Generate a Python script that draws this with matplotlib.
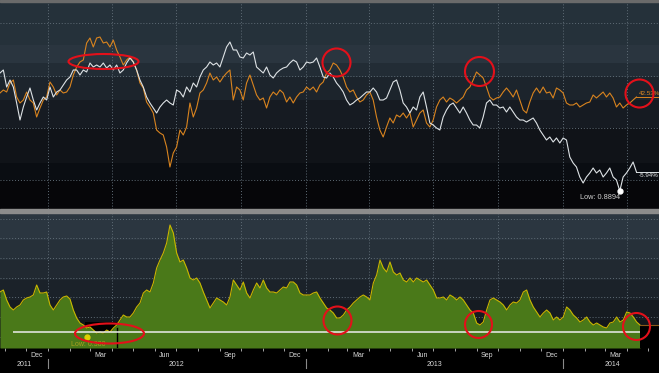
import numpy as np
import pandas as pd
import matplotlib
matplotlib.use('Agg')
from matplotlib import pyplot as plt
from matplotlib import transforms
from matplotlib.path import Path
from matplotlib.patches import Rectangle

plt.rcParams['font.family'] = ['Liberation Sans', 'DejaVu Sans']

# ---- data (chart units) ----
white_vals = [134,137,120,127,120,104,87,100,110,119,107,97,104,110,107,120,110,115,117,122,
              127,130,137,137,132,137,135,144,140,142,140,144,139,142,137,142,134,137,144,149,
              145,137,127,120,110,104,99,94,100,104,107,104,102,117,115,110,120,115,124,120,
              130,137,140,145,142,144,140,
              150,160,165,157,157,150,149,154,152,155,140,137,134,140,132,129,134,137,139,140,
              144,147,145,137,140,145,144,145,149,140,130,129,134,130,124,120,115,107,102,104,
              107,109,112,115,115,119,115,107,107,109,117,125,127,117,104,100,94,100,97,110,
              115,100,84,82,79,77,
              90,97,102,104,99,94,100,94,87,82,82,79,90,104,107,102,102,99,100,95,
              100,95,90,87,87,85,87,89,84,77,72,67,70,65,69,64,69,67,50,44,
              40,30,24,30,34,39,34,37,30,34,39,30,27,16,30,34,39,45,35]
orange_vals = [114,117,115,124,127,110,104,107,115,107,104,90,99,107,110,125,120,112,117,114,
               115,120,132,140,145,147,164,169,160,169,170,164,165,160,167,157,150,142,147,150,
               145,137,124,119,105,100,94,77,74,72,60,40,54,60,77,72,80,104,90,99,
               114,117,124,134,127,130,125,
               130,134,137,107,120,117,107,124,132,122,112,107,109,99,110,115,112,117,114,105,
               110,104,110,114,115,120,117,120,115,122,125,134,137,144,142,137,130,120,115,117,
               110,105,107,112,115,107,90,77,70,80,89,84,92,90,94,89,94,80,87,94,
               97,84,80,87,100,107,
               110,105,109,107,104,107,110,117,120,127,135,132,129,120,110,107,109,110,115,119,
               115,110,117,107,97,94,105,114,119,114,120,114,115,109,119,117,114,104,102,102,
               104,100,102,104,105,112,109,112,115,110,114,109,100,104,99,102,104,107,110]
spread_vals = [56,58,48,41,38,41,43,48,50,51,53,63,55,55,56,43,38,43,48,51,
               52,49,38,30,25,23,20,21,18,15,16,15,18,16,20,23,28,33,31,31,
               35,41,45,55,58,56,65,80,88,95,105,123,115,95,86,88,80,70,68,70,
               65,56,48,40,45,50,48,46,43,51,68,63,58,66,55,50,58,65,60,68,
               60,56,56,55,58,61,60,66,66,63,55,53,53,53,55,56,50,45,40,38,
               35,30,30,33,38,41,45,48,51,53,51,48,65,73,88,80,76,86,76,73,
               75,68,66,70,66,70,68,66,68,63,58,50,50,51,48,53,51,48,51,48,
               43,38,35,25,23,26,38,48,50,48,46,43,38,43,46,45,48,56,58,48,
               41,36,31,35,38,35,28,31,28,31,41,38,33,30,26,28,31,26,23,25,
               23,21,20,25,26,31,26,28,36,35,31,26,23]

top_dates = pd.date_range('2011-10-25', '2014-04-15', periods=len(white_vals))
bot_dates = pd.date_range('2011-10-25', '2014-04-20', periods=len(spread_vals))

white_last_label = '-5.94%'
orange_last_label = '42.53%'
white_low_label = 'Low: 0.8894'
spread_low_label = 'Low: 0.380'
spread_ref = 16

month_labels = ['Dec', 'Mar', 'Jun', 'Sep', 'Dec', 'Mar', 'Jun', 'Sep', 'Dec', 'Mar']
month_pos = ['2011-12-16', '2012-03-16', '2012-06-15', '2012-09-15', '2012-12-16',
             '2013-03-16', '2013-06-15', '2013-09-15', '2013-12-16', '2014-03-16']
year_labels = ['2011', '2012', '2013', '2014']
year_pos = ['2011-11-28', '2012-07-01', '2013-07-02', '2014-03-12']
year_breaks = ['2012-01-01', '2013-01-01', '2014-01-01']
quarters = pd.date_range('2012-01-01', '2014-04-01', freq='QS')
months = pd.date_range('2011-11-01', '2014-05-01', freq='MS')

low_window = ('2012-02-22', '2012-04-08')

# red highlights: date, value, width px, height px
top_marks = [('2012-03-19', 146.5, 70, 15), ('2013-02-13', 145, 28, 28),
             ('2013-09-03', 136, 29, 29), ('2014-04-18', 114.5, 28, 28)]
bot_marks = [('2012-03-27', 15, 69, 20), ('2013-02-14', 28, 28, 28),
             ('2013-09-02', 24.5, 27, 27), ('2014-04-15', 22.5, 27, 27)]

xmin, xmax = pd.Timestamp('2011-10-25'), pd.Timestamp('2014-05-17')

H = 373.0
fig = plt.figure(figsize=(6.59, 3.73), dpi=100, facecolor='black')
ax1 = fig.add_axes([0, 1 - 209 / H, 1, 209 / H])
ax2 = fig.add_axes([0, 1 - 348 / H, 1, 135 / H])

fig.add_artist(Rectangle((0, 1 - 213 / H), 1, 4 / H, transform=fig.transFigure,
                         color='#8c8c8c', zorder=10))
fig.add_artist(Rectangle((0, 1 - 1.5 / H), 1, 1.5 / H, transform=fig.transFigure,
                         color='#6a6a6a', zorder=10))

for ax in (ax1, ax2):
    ax.set_facecolor('black')
    for s in ax.spines.values():
        s.set_visible(False)
    ax.set_xlim(xmin, xmax)
    ax.set_yticks([])

ax1.set_ylim(-2, 207)
ax2.set_ylim(0, 135)

# banded background
top_bands = [(162, 207, '#25313a'), (144, 162, '#2a353f'), (130, 144, '#222c35'),
             (107, 130, '#1c242c'), (79, 107, '#161b22'), (44, 79, '#101318'),
             (27, 44, '#0a0d12'), (-2, 27, '#060609')]
for lo, hi, c in top_bands:
    ax1.axhspan(lo, hi, color=c, zorder=0, lw=0)
bot_bands = [(108, 135, '#2b3640'), (88, 108, '#263039'), (68, 88, '#212931'),
             (48, 68, '#1b2229'), (28, 48, '#161b21'), (0, 28, '#12161b')]
for lo, hi, c in bot_bands:
    ax2.axhspan(lo, hi, color=c, zorder=0, lw=0)

grid_kw = dict(color='#5f6c76', lw=0.7, linestyle=(0, (1, 2)), zorder=1)
for q in quarters:
    ax1.axvline(q, **grid_kw)
    ax2.axvline(q, **grid_kw)
for v in [184, 131, 79, 27]:
    ax1.axhline(v, **grid_kw)
for v in [11, 31, 51, 70, 90, 110, 129]:
    ax2.axhline(v, **grid_kw)

# top panel series
ax1.plot(top_dates, orange_vals, color='#d9841f', lw=0.8, zorder=3)
ax1.plot(top_dates, white_vals, color='#dde2e5', lw=0.8, zorder=4)

ax1.plot([top_dates[-1], xmax], [white_vals[-1]] * 2, color='#dde2e5', lw=0.7, zorder=4)
ax1.plot([top_dates[-1], xmax], [orange_vals[-1]] * 2, color='#d9841f', lw=0.7, zorder=3)
ax1.annotate(white_last_label, (top_dates[-1], white_vals[-1]), xytext=(1.5, -2.6),
             textcoords='offset points', color='#e6e6e6', fontsize=4.5, va='center')
ax1.annotate(orange_last_label, (top_dates[-1], orange_vals[-1]), xytext=(1.5, 2.4),
             textcoords='offset points', color='#e08a22', fontsize=4.5, va='center')

lo_i = int(np.argmin(white_vals))
ax1.plot(top_dates[lo_i], white_vals[lo_i], 'o', color='white', ms=3.5, zorder=5)
ax1.annotate(white_low_label, (top_dates[lo_i], white_vals[lo_i]), xytext=(-14.5, -4.5),
             textcoords='offset points', color='#d0d0d0', fontsize=5.3,
             ha='center', va='center', zorder=5)

# bottom panel area
ax2.axvspan(pd.Timestamp(low_window[0]), pd.Timestamp(low_window[1]), ymax=26 / 135,
            color='black', zorder=1.5, lw=0)
ax2.fill_between(bot_dates, spread_vals, 0, color='#4a7919', lw=0, zorder=2)
ax2.plot(bot_dates, spread_vals, color='#c9b600', lw=0.8, zorder=3)
ax2.axvline(pd.Timestamp(low_window[1]), ymax=20 / 135, color='black', lw=1, zorder=3)
ax2.axvspan(bot_dates[-1], xmax, ymax=spread_vals[-1] / 135, color='black', zorder=3, lw=0)
ax2.plot([bot_dates[-1], xmax], [spread_vals[-1]] * 2, color='#8a5a1a', lw=0.8, zorder=3)
ax2.hlines(spread_ref, bot_dates[4], bot_dates[-1], color='#ececec', lw=1.1, zorder=4)

slo = int(np.argmin(spread_vals))
ax2.plot(bot_dates[slo - 3], spread_ref - 5, 'o', color='#e0d000', ms=3.5, zorder=5)
ax2.annotate(spread_low_label, (bot_dates[slo - 3], spread_ref - 5), xytext=(1, -5.5),
             textcoords='offset points', color='#a8a020', fontsize=5, ha='center',
             va='center', zorder=5)

# red highlights
ell = Path.unit_circle()
def ring(w, h):
    return Path(ell.vertices * np.array([1.0, h / w]), ell.codes)

for ax, marks in ((ax1, top_marks), (ax2, bot_marks)):
    for d, v, w, h in marks:
        ax.plot(pd.Timestamp(d), v, marker=ring(w, h), ms=w * 0.72, mfc='none',
                mec='#e3101a', mew=1.5, zorder=6, clip_on=False)

# x axis
ax1.set_xticks([])
ax2.set_xticks([])
ax2.set_xticks(months, minor=True)
ax2.tick_params(which='minor', length=2, width=0.6, color='#bfbfbf', direction='out',
                labelbottom=False)
trans = transforms.blended_transform_factory(ax2.transData, ax2.transAxes)
for lab, d in zip(month_labels, month_pos):
    ax2.text(pd.Timestamp(d), -7.5 / 135, lab, transform=trans, color='#d8d8d8',
             fontsize=5, ha='center', va='center')
for lab, d in zip(year_labels, year_pos):
    ax2.text(pd.Timestamp(d), -16.5 / 135, lab, transform=trans, color='#d8d8d8',
             fontsize=5, ha='center', va='center')
for d in year_breaks:
    ax2.plot([pd.Timestamp(d)] * 2, [-11 / 135, -20 / 135], transform=trans,
             color='#8a8a8a', lw=0.8, clip_on=False)

fig.savefig('out.png', dpi=100, facecolor='black')
